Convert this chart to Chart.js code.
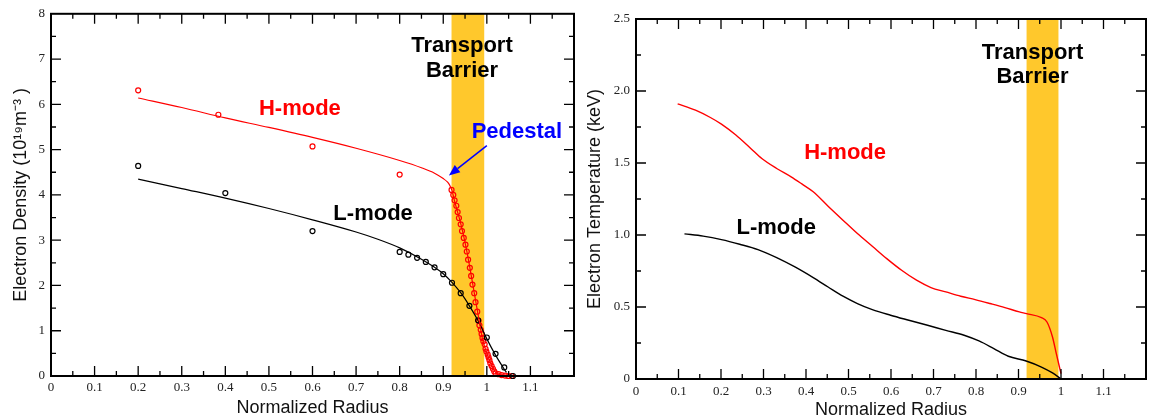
<!DOCTYPE html>
<html>
<head>
<meta charset="utf-8">
<script src="https://cdn.jsdelivr.net/npm/chart.js@4/dist/chart.umd.min.js"></script>
<style>
  html, body { margin: 0; padding: 0; background: #ffffff; }
  #wrapL { position: absolute; left: 0; top: 0; width: 580px; height: 418px; }
  #wrapR { position: absolute; left: 580px; top: 0; width: 571px; height: 418px; }
</style>
</head>
<body>
<div id="wrapL"><canvas id="cL" width="580" height="418"></canvas></div>
<div id="wrapR"><canvas id="cR" width="571" height="418"></canvas></div>
<script>
// ---------------- Left panel: electron density ----------------
const densHModeDataX = [0.2, 0.384, 0.6, 0.8,
  0.919, 0.923, 0.926, 0.930, 0.933, 0.936, 0.940, 0.943, 0.947, 0.951,
  0.954, 0.957, 0.961, 0.964, 0.967, 0.971, 0.974, 0.978, 0.981, 0.983,
  0.986, 0.988, 0.990, 0.992, 0.995, 0.997, 0.999, 1.002, 1.004, 1.006,
  1.008, 1.011, 1.014, 1.017, 1.020, 1.027, 1.034, 1.042, 1.049, 1.057];
const densHModeDataY = [6.31, 5.77, 5.07, 4.45,
  4.11, 4.00, 3.88, 3.76, 3.62, 3.49, 3.35, 3.20, 3.05, 2.90,
  2.75, 2.57, 2.39, 2.21, 2.02, 1.83, 1.63, 1.42, 1.22, 1.12,
  1.02, 0.93, 0.84, 0.77, 0.70, 0.60, 0.54, 0.47, 0.41, 0.35,
  0.28, 0.22, 0.16, 0.10, 0.06, 0.04, 0.02, 0.01, 0.00, 0.00];

const densHModeFitX = [0.2, 0.3, 0.4, 0.5, 0.6, 0.7, 0.8, 0.85, 0.88, 0.90, 0.91, 0.915, 0.92,
  0.925, 0.93, 0.94, 0.95, 0.96, 0.97, 0.98, 0.99, 1.0, 1.01, 1.02, 1.03, 1.045, 1.06];
const densHModeFitY = [6.14, 5.93, 5.70, 5.49, 5.27, 5.03, 4.76, 4.60, 4.48, 4.36, 4.28, 4.21, 4.10,
  3.90, 3.72, 3.37, 2.95, 2.45, 1.90, 1.35, 0.82, 0.50, 0.26, 0.08, 0.03, 0.01, 0.0];

const densLModeDataX = [0.2, 0.4, 0.6, 0.8, 0.82, 0.84, 0.86, 0.88, 0.90, 0.92, 0.94,
  0.96, 0.98, 1.0, 1.02, 1.04, 1.06];
const densLModeDataY = [4.64, 4.04, 3.20, 2.74, 2.68, 2.61, 2.52, 2.40, 2.25, 2.06, 1.83,
  1.55, 1.23, 0.85, 0.49, 0.19, 0.0];

const densLModeFitX = [0.2, 0.3, 0.4, 0.5, 0.6, 0.7, 0.75, 0.8, 0.85, 0.88, 0.9, 0.92, 0.94,
  0.96, 0.98, 1.0, 1.02, 1.04, 1.045];
const densLModeFitY = [4.35, 4.14, 3.93, 3.70, 3.45, 3.18, 3.02, 2.83, 2.58, 2.40, 2.26, 2.07, 1.84,
  1.55, 1.22, 0.82, 0.46, 0.15, 0.08];

// ---------------- Right panel: electron temperature ----------------
const tempHModeX = [0.098, 0.140, 0.175, 0.201, 0.235, 0.270, 0.296, 0.331, 0.365, 0.391, 0.417,
  0.452, 0.487, 0.521, 0.556, 0.590, 0.625, 0.660, 0.694, 0.729, 0.764, 0.798, 0.833, 0.868,
  0.902, 0.919, 0.954, 0.967, 0.980, 0.989, 1.0];
const tempHModeY = [1.911, 1.867, 1.816, 1.770, 1.694, 1.601, 1.531, 1.462, 1.404, 1.353, 1.300,
  1.200, 1.103, 1.010, 0.922, 0.836, 0.755, 0.686, 0.635, 0.605, 0.575, 0.551, 0.524, 0.496,
  0.466, 0.454, 0.426, 0.396, 0.292, 0.176, 0.037];

const tempLModeX = [0.114, 0.158, 0.201, 0.244, 0.287, 0.331, 0.374, 0.417, 0.452, 0.487, 0.521,
  0.556, 0.599, 0.642, 0.686, 0.729, 0.772, 0.807, 0.842, 0.876, 0.918, 0.954, 0.980, 1.0];
const tempLModeY = [1.008, 0.992, 0.968, 0.936, 0.899, 0.843, 0.778, 0.704, 0.639, 0.575, 0.524,
  0.482, 0.443, 0.408, 0.373, 0.338, 0.304, 0.264, 0.211, 0.158, 0.125, 0.083, 0.042, 0.0];

// ---------------- Shared annotation values ----------------
const barrierRange = [0.919, 0.994];
const xTickLabels = ['0', '0.1', '0.2', '0.3', '0.4', '0.5', '0.6', '0.7', '0.8', '0.9', '1', '1.1', ''];
const densYTickLabels = ['0', '1', '2', '3', '4', '5', '6', '7', '8'];
const tempYTickLabels = ['0', '0.5', '1.0', '1.5', '2.0', '2.5'];

function pts(xs, ys) { return xs.map((x, i) => ({ x: x, y: ys[i] })); }

const RED = '#ff0000';
const BLACK = '#000000';
const BAND = '#ffc82c';

// plugin: transport barrier band
const bandPlugin = {
  id: 'band',
  beforeDatasetsDraw(chart) {
    const { ctx, chartArea, scales } = chart;
    const x0 = scales.x.getPixelForValue(barrierRange[0]);
    const x1 = scales.x.getPixelForValue(barrierRange[1]);
    ctx.save();
    ctx.fillStyle = BAND;
    ctx.fillRect(x0, chartArea.top, x1 - x0, chartArea.bottom - chartArea.top);
    ctx.restore();
  }
};

// plugin: frame with inward major/minor ticks on all sides
function framePlugin(yMajor, yMinor, yMax) {
  return {
    id: 'frame',
    afterDraw(chart) {
      const { ctx, chartArea: a, scales } = chart;
      ctx.save();
      ctx.strokeStyle = '#000';
      ctx.lineWidth = 1.3;
      ctx.beginPath();
      for (let i = 1; i < 24; i++) {
        const v = i * 0.05;
        const px = scales.x.getPixelForValue(v);
        const len = (i % 2 === 0) ? 10 : 5;
        ctx.moveTo(px, a.bottom); ctx.lineTo(px, a.bottom - len);
        ctx.moveTo(px, a.top); ctx.lineTo(px, a.top + len);
      }
      const n = Math.round(yMax / yMinor);
      const ratio = Math.round(yMajor / yMinor);
      for (let i = 1; i < n; i++) {
        const v = i * yMinor;
        const py = scales.y.getPixelForValue(v);
        const len = (i % ratio === 0) ? 10 : 5;
        ctx.moveTo(a.left, py); ctx.lineTo(a.left + len, py);
        ctx.moveTo(a.right, py); ctx.lineTo(a.right - len, py);
      }
      ctx.stroke();
      ctx.lineWidth = 2;
      ctx.strokeRect(a.left, a.top, a.right - a.left, a.bottom - a.top);
      ctx.restore();
    }
  };
}

// plugin: text annotations
function labelsPlugin(items, arrow) {
  return {
    id: 'labels',
    afterDraw(chart) {
      const { ctx, scales } = chart;
      ctx.save();
      ctx.textAlign = 'center';
      ctx.textBaseline = 'middle';
      ctx.font = 'bold 22px "Liberation Sans", Arial, sans-serif';
      items.forEach(it => {
        ctx.fillStyle = it.color;
        ctx.fillText(it.text, scales.x.getPixelForValue(it.x), scales.y.getPixelForValue(it.y));
      });
      if (arrow) {
        const x0 = scales.x.getPixelForValue(arrow.from[0]);
        const y0 = scales.y.getPixelForValue(arrow.from[1]);
        const x1 = scales.x.getPixelForValue(arrow.to[0]);
        const y1 = scales.y.getPixelForValue(arrow.to[1]);
        const ang = Math.atan2(y1 - y0, x1 - x0);
        const hl = 11, hw = 4.5;
        const bx = x1 - hl * Math.cos(ang), by = y1 - hl * Math.sin(ang);
        ctx.strokeStyle = arrow.color;
        ctx.fillStyle = arrow.color;
        ctx.lineWidth = 1.5;
        ctx.beginPath();
        ctx.moveTo(x0, y0); ctx.lineTo(bx, by);
        ctx.stroke();
        ctx.beginPath();
        ctx.moveTo(x1, y1);
        ctx.lineTo(bx + hw * Math.sin(ang), by - hw * Math.cos(ang));
        ctx.lineTo(bx - hw * Math.sin(ang), by + hw * Math.cos(ang));
        ctx.closePath();
        ctx.fill();
      }
      ctx.restore();
    }
  };
}

const tickFont = { family: '"Liberation Serif", "Times New Roman", serif', size: 13 };
const titleFont = { family: '"Liberation Sans", Arial, sans-serif', size: 18, lineHeight: 0.8 };

function xScale(labelPad, titlePadBottom, fixedHeight) {
  return {
    type: 'linear', min: 0, max: 1.2,
    grid: { display: false, drawTicks: false },
    border: { display: false },
    ticks: {
      stepSize: 0.1, padding: labelPad, color: '#222', font: tickFont, maxRotation: 0, autoSkip: false,
      callback: (v) => xTickLabels[Math.round(v * 10)] ?? ''
    },
    title: { display: true, text: 'Normalized Radius', color: '#111', font: titleFont,
             padding: { top: 0, bottom: titlePadBottom } },
    afterFit: (s) => { s.height = fixedHeight; }
  };
}

function lineDS(data, color, width) {
  return { type: 'line', data: data, borderColor: color, borderWidth: width, pointRadius: 0,
           fill: false, cubicInterpolationMode: 'monotone', showLine: true, clip: 2 };
}
function dotDS(data, color) {
  return { type: 'scatter', data: data, borderColor: color, backgroundColor: 'rgba(0,0,0,0)',
           pointRadius: 2.5, pointBorderWidth: 1.2, showLine: false, clip: false };
}

Chart.defaults.animation = false;

new Chart(document.getElementById('cL'), {
  type: 'scatter',
  data: {
    datasets: [
      lineDS(pts(densHModeFitX, densHModeFitY), RED, 1.2),
      lineDS(pts(densLModeFitX, densLModeFitY), BLACK, 1.2),
      dotDS(pts(densLModeDataX, densLModeDataY), BLACK),
      dotDS(pts(densHModeDataX, densHModeDataY), RED)
    ]
  },
  options: {
    responsive: false,
    animation: false,
    events: [],
    layout: { padding: { top: 10, right: 6, left: 0, bottom: 0 } },
    plugins: { legend: { display: false }, tooltip: { enabled: false } },
    scales: {
      x: xScale(4, 3, 42),
      y: {
        type: 'linear', min: 0, max: 8,
        grid: { display: false, drawTicks: false },
        border: { display: false },
        ticks: { stepSize: 1, padding: 6, color: '#222', font: tickFont,
                 callback: (v) => densYTickLabels[Math.round(v)] ?? '' },
        title: { display: true, text: 'Electron Density (10¹⁹m⁻³ )', color: '#111', font: titleFont,
                 padding: { top: 14, bottom: 0 } },
        afterFit: (s) => { s.width = 51; }
      }
    }
  },
  plugins: [bandPlugin, framePlugin(1, 0.5, 8), labelsPlugin([
    { text: 'Transport', x: 0.943, y: 7.29, color: BLACK },
    { text: 'Barrier', x: 0.943, y: 6.73, color: BLACK },
    { text: 'H-mode', x: 0.571, y: 5.90, color: RED },
    { text: 'L-mode', x: 0.739, y: 3.58, color: BLACK },
    { text: 'Pedestal', x: 1.069, y: 5.39, color: '#0000ff' }
  ], { from: [1.0, 5.09], to: [0.913, 4.43], color: '#0000ff' })]
});

new Chart(document.getElementById('cR'), {
  type: 'scatter',
  data: {
    datasets: [
      lineDS(pts(tempHModeX, tempHModeY), RED, 1.4),
      lineDS(pts(tempLModeX, tempLModeY), BLACK, 1.4)
    ]
  },
  options: {
    responsive: false,
    animation: false,
    events: [],
    layout: { padding: { top: 19, right: 2, left: 0, bottom: 0 } },
    plugins: { legend: { display: false }, tooltip: { enabled: false } },
    scales: {
      x: xScale(5, 1, 39),
      y: {
        type: 'linear', min: 0, max: 2.5,
        grid: { display: false, drawTicks: false },
        border: { display: false },
        ticks: { stepSize: 0.5, padding: 6, color: '#222', font: tickFont,
                 callback: (v) => tempYTickLabels[Math.round(v * 2)] ?? '' },
        title: { display: true, text: 'Electron Temperature (keV)', color: '#111', font: titleFont,
                 padding: { top: 8, bottom: 0 } },
        afterFit: (s) => { s.width = 56; }
      }
    }
  },
  plugins: [bandPlugin, framePlugin(0.5, 0.25, 2.5), labelsPlugin([
    { text: 'Transport', x: 0.933, y: 2.263, color: BLACK },
    { text: 'Barrier', x: 0.933, y: 2.097, color: BLACK },
    { text: 'H-mode', x: 0.492, y: 1.568, color: RED },
    { text: 'L-mode', x: 0.330, y: 1.047, color: BLACK }
  ], null)]
});
</script>
</body>
</html>
